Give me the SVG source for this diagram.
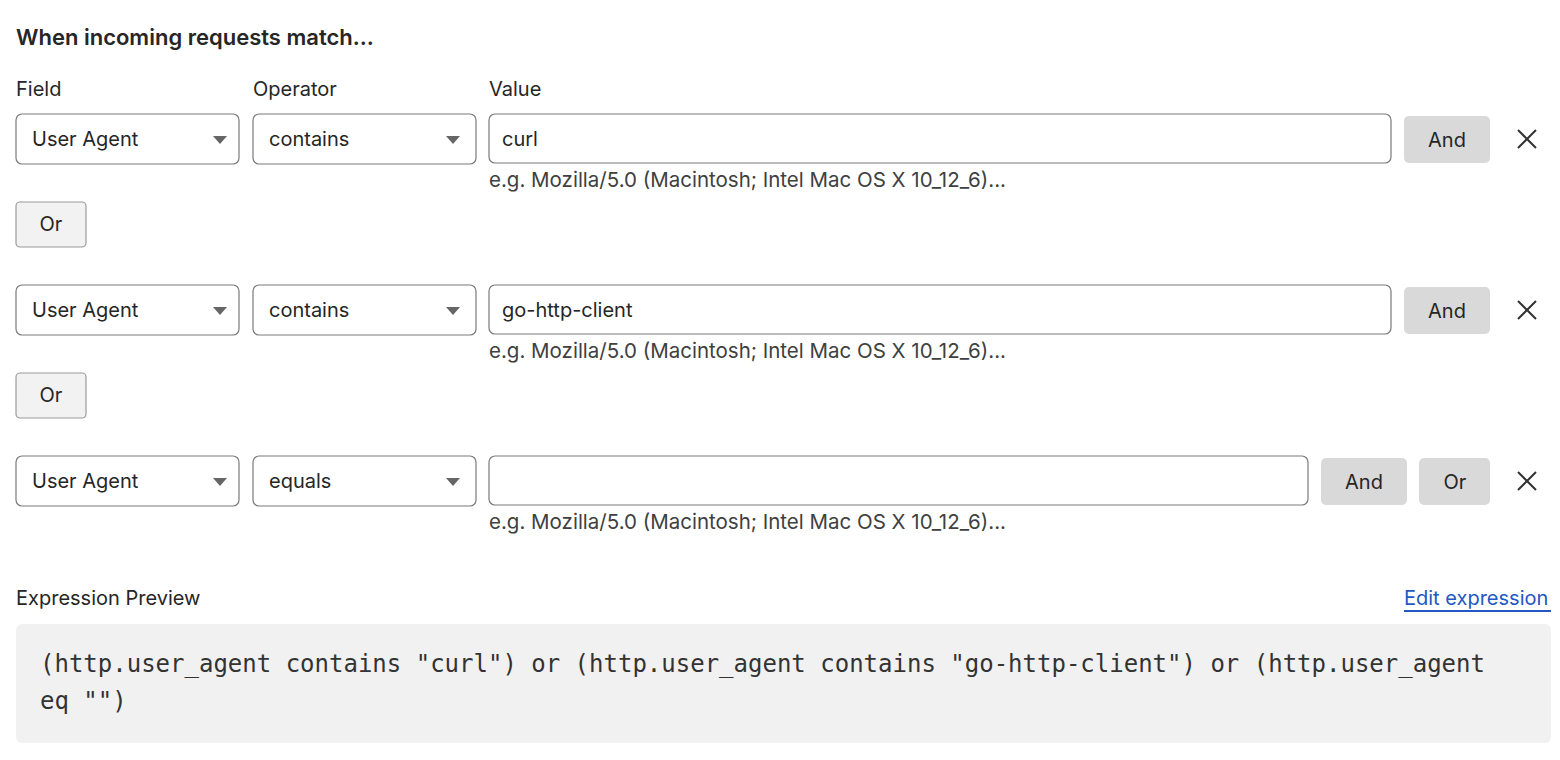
<svg xmlns="http://www.w3.org/2000/svg" width="1560" height="760" viewBox="0 0 1560 760">
<style>
text{font-family:Inter,"Noto Sans","Liberation Sans",sans-serif;fill:#262626}
.t{font-size:22px;font-weight:600}
.l{font-size:20px}
.in{fill:#fff;stroke:#7a7a7a;stroke-width:1.2}
.btn{fill:#d9d9d9}
.or{fill:#f2f2f2;stroke:#9a9a9a;stroke-width:1.2}
.h{font-size:20.5px;fill:#404040}
.x{stroke:#333;stroke-width:2;fill:none}
.m{font-family:"DejaVu Sans Mono","Liberation Mono",monospace;font-size:24px;fill:#333}
</style>
<defs><path id="tri" d="M0 0h14l-7 8z" fill="#666"/></defs>
<rect width="1560" height="760" fill="#fff"/>
<text class="t" x="16" y="45">When incoming requests match...</text>
<text class="l" x="16" y="96">Field</text>
<text class="l" x="253" y="96">Operator</text>
<text class="l" x="489" y="96">Value</text>
<g id="row1">
<rect class="in" x="16" y="114" width="223" height="50" rx="6"/><text class="l" x="32" y="146">User Agent</text><use href="#tri" x="213" y="136"/>
<rect class="in" x="253" y="114" width="223" height="50" rx="6"/><text class="l" x="269" y="146">contains</text><use href="#tri" x="446" y="136"/>
<rect class="in" x="489" y="114" width="902" height="49" rx="6"/><text class="l" x="502" y="146">curl</text>
<rect class="btn" x="1404" y="116" width="86" height="47" rx="5"/><text class="l" x="1447" y="147" text-anchor="middle">And</text>
<path class="x" d="M1518 130l18 18M1536 130l-18 18"/>
<text class="h" x="489" y="187">e.g. Mozilla/5.0 (Macintosh; Intel Mac OS X 10_12_6)...</text>
</g>
<g id="or1"><rect class="or" x="16" y="202" width="70" height="45" rx="4"/><text class="l" x="51" y="231" text-anchor="middle">Or</text></g>
<g id="row2">
<rect class="in" x="16" y="285" width="223" height="50" rx="6"/><text class="l" x="32" y="317">User Agent</text><use href="#tri" x="213" y="307"/>
<rect class="in" x="253" y="285" width="223" height="50" rx="6"/><text class="l" x="269" y="317">contains</text><use href="#tri" x="446" y="307"/>
<rect class="in" x="489" y="285" width="902" height="49" rx="6"/><text class="l" x="502" y="317">go-http-client</text>
<rect class="btn" x="1404" y="287" width="86" height="47" rx="5"/><text class="l" x="1447" y="318" text-anchor="middle">And</text>
<path class="x" d="M1518 301l18 18M1536 301l-18 18"/>
<text class="h" x="489" y="358">e.g. Mozilla/5.0 (Macintosh; Intel Mac OS X 10_12_6)...</text>
</g>
<g id="or2"><rect class="or" x="16" y="373" width="70" height="45" rx="4"/><text class="l" x="51" y="402" text-anchor="middle">Or</text></g>
<g id="row3">
<rect class="in" x="16" y="456" width="223" height="50" rx="6"/><text class="l" x="32" y="488">User Agent</text><use href="#tri" x="213" y="478"/>
<rect class="in" x="253" y="456" width="223" height="50" rx="6"/><text class="l" x="269" y="488">equals</text><use href="#tri" x="446" y="478"/>
<rect class="in" x="489" y="456" width="819" height="49" rx="6"/>
<rect class="btn" x="1321" y="458" width="86" height="47" rx="5"/><text class="l" x="1364" y="489" text-anchor="middle">And</text>
<rect class="btn" x="1419" y="458" width="71" height="47" rx="5"/><text class="l" x="1455" y="489" text-anchor="middle">Or</text>
<path class="x" d="M1518 472l18 18M1536 472l-18 18"/>
<text class="h" x="489" y="529">e.g. Mozilla/5.0 (Macintosh; Intel Mac OS X 10_12_6)...</text>
</g>
<g id="preview">
<text class="l" x="16" y="605">Expression Preview</text>
<text class="l" x="1404" y="605" style="fill:#2357c4">Edit expression</text>
<rect x="1404" y="610" width="147" height="2" fill="#2357c4"/>
<rect x="16" y="624" width="1535" height="119" rx="6" fill="#f1f1f1"/>
<text class="m" x="40" y="672">(http.user_agent contains "curl") or (http.user_agent contains "go-http-client") or (http.user_agent</text>
<text class="m" x="40" y="709">eq "")</text>
</g>
</svg>
